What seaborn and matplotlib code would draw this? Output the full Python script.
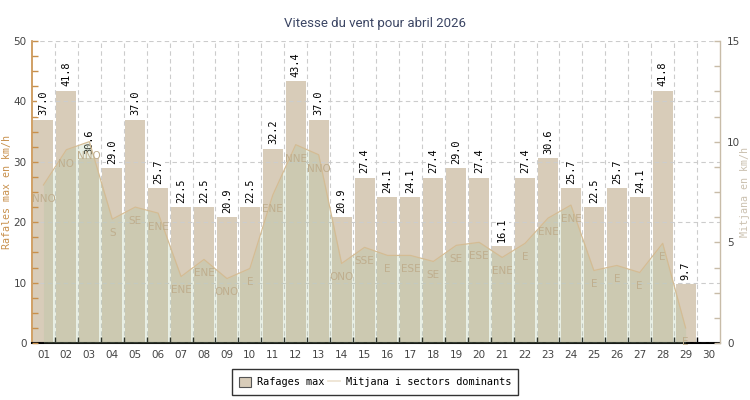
import numpy as np
import pandas as pd
import matplotlib
matplotlib.use("Agg")
import matplotlib.pyplot as plt
import seaborn as sns
from matplotlib.ticker import MultipleLocator, FixedLocator
from matplotlib.patches import Patch
from matplotlib.lines import Line2D

# ---- data ----
days = [f"{d:02d}" for d in range(1, 31)]
rafales = [37.0, 41.8, 30.6, 29.0, 37.0, 25.7, 22.5, 22.5, 20.9, 22.5,
           32.2, 43.4, 37.0, 20.9, 27.4, 24.1, 24.1, 27.4, 29.0, 27.4,
           16.1, 27.4, 30.6, 25.7, 22.5, 25.7, 24.1, 41.8, 9.7, np.nan]
mitjana = [7.85, 9.6, 10.0, 6.15, 6.75, 6.45, 3.3, 4.15, 3.2, 3.7,
           7.35, 9.85, 9.35, 3.95, 4.75, 4.35, 4.35, 4.05, 4.85, 5.0,
           4.25, 4.95, 6.2, 6.85, 3.6, 3.85, 3.5, 4.95, 0.75, np.nan]
sectors = ["NNO", "NO", "NNO", "S", "SE", "ENE", "ENE", "ENE", "ONO", "E",
           "ENE", "NNE", "NNO", "ONO", "SSE", "E", "ESE", "SE", "SE", "ESE",
           "ENE", "E", "ENE", "ENE", "E", "E", "E", "E", "E", ""]
title = "Vitesse du vent pour abril 2026"
ylabel_left = "Rafales max en km/h"
ylabel_right = "Mitjana en km/h"
legend_labels = ["Rafages max", "Mitjana i sectors dominants"]

df = pd.DataFrame({"dia": days, "rafales": rafales, "mitjana": mitjana, "sector": sectors})

# ---- style ----
BAR = "#d8ccb9"
AREA = "#adc49e"
LINE = "#d4bc94"
ORANGE = "#c8904c"
RIGHTC = "#c8bca8"
MONO = "DejaVu Sans Mono"

fig = plt.figure(figsize=(7.5, 4), dpi=100)
ax = fig.add_axes([32 / 750, 57 / 400, 688 / 750, 302 / 400])

sns.barplot(data=df, x="dia", y="rafales", order=days, color=BAR,
            saturation=1, width=0.87, edgecolor="none", ax=ax)
ax.set_xlim(-0.5, len(days) - 0.5)
ax.set_ylim(0, 50)

cont = ax.containers[0]
labs = ["" if np.isnan(b.get_height()) else f"{b.get_height():.1f}" for b in cont]
ax.bar_label(cont, labels=labs, rotation=90, padding=3, fontsize=7.4,
             family=MONO, color="black",
             bbox=dict(facecolor="white", edgecolor="none", pad=1.0), zorder=4)

ax.set_axisbelow(False)
ax.yaxis.set_major_locator(MultipleLocator(10))
ax.yaxis.set_minor_locator(MultipleLocator(2.5))
ax.grid(axis="y", which="major", ls=(0, (4, 3)), color="#cccccc", lw=0.8)
ax.xaxis.set_minor_locator(FixedLocator(np.arange(0.5, len(days) - 0.5, 1)))
ax.grid(axis="x", which="minor", ls=(0, (4, 3)), color="#cccccc", lw=0.8)
ax.grid(axis="x", which="major", visible=False)

ax.tick_params(axis="x", which="major", length=0, labelsize=7.5, labelcolor="#444444", pad=5)
ax.tick_params(axis="x", which="minor", length=4, direction="in", color="black", width=1)
ax.tick_params(axis="y", which="both", direction="in", color=ORANGE, length=4, width=1)
ax.tick_params(axis="y", which="major", labelsize=7.5, labelcolor="#444444", pad=4)
ax.set_xlabel("")
ax.set_ylabel("")
for s in ["top", "right"]:
    ax.spines[s].set_visible(False)
ax.spines["left"].set_color(ORANGE)
ax.spines["left"].set_linewidth(1.2)
ax.spines["bottom"].set_color("black")
ax.spines["bottom"].set_linewidth(1.5)

# ---- mean wind area on right axis ----
ax2 = ax.twinx()
x = np.arange(len(days))
valid = ~df["mitjana"].isna().to_numpy()
xv = x[valid]
mv = df["mitjana"].to_numpy()[valid]
ax2.fill_between(xv, 0, mv, color=AREA, alpha=0.27, lw=0)
sns.lineplot(x=xv, y=mv, ax=ax2, color=LINE, lw=0.9)
for xi, mi, s in zip(xv, mv, df["sector"].to_numpy()[valid]):
    ax2.annotate(s, (xi, mi), xytext=(0, -10), textcoords="offset points",
                 ha="center", va="center", fontsize=7.5, color="#bfae8e")
ax2.set_ylim(0, 15)
ax2.set_xlim(-0.5, len(days) - 0.5)
ax2.yaxis.set_major_locator(MultipleLocator(5))
ax2.yaxis.set_minor_locator(MultipleLocator(1.25))
ax2.tick_params(axis="y", which="both", direction="in", color=RIGHTC, length=4, width=1)
ax2.tick_params(axis="y", which="major", labelsize=7.5, labelcolor="#444444", pad=5)
ax2.set_ylabel("")
ax2.grid(False)
for s in ["top", "left", "bottom"]:
    ax2.spines[s].set_visible(False)
ax2.spines["right"].set_color(RIGHTC)
ax2.spines["right"].set_linewidth(1.0)

# ---- texts ----
fig.text(0.5, 0.94, title, ha="center", va="center", fontsize=9.5,
         color="#3c4664", family=["Roboto", "DejaVu Sans"])
fig.text(7 / 750, 0.52, ylabel_left, rotation=90, ha="center", va="center",
         fontsize=7.2, family=MONO, color=ORANGE)
fig.text(745 / 750, 0.52, ylabel_right, rotation=90, ha="center", va="center",
         fontsize=7.2, family=MONO, color="#cbc1b0")

handles = [Patch(facecolor=BAR, edgecolor="#555555", lw=0.8),
           Line2D([], [], color="#ece2cf", lw=1.2)]
leg = fig.legend(handles, legend_labels, loc="center", bbox_to_anchor=(0.5, 0.045),
                 ncol=2, frameon=True, fancybox=False, edgecolor="black",
                 prop={"family": MONO, "size": 7.4}, handlelength=1.2,
                 handleheight=1.2, handletextpad=0.5, columnspacing=0.4,
                 borderpad=0.7)
leg.get_frame().set_linewidth(1.0)

fig.savefig("out.png", dpi=100)
